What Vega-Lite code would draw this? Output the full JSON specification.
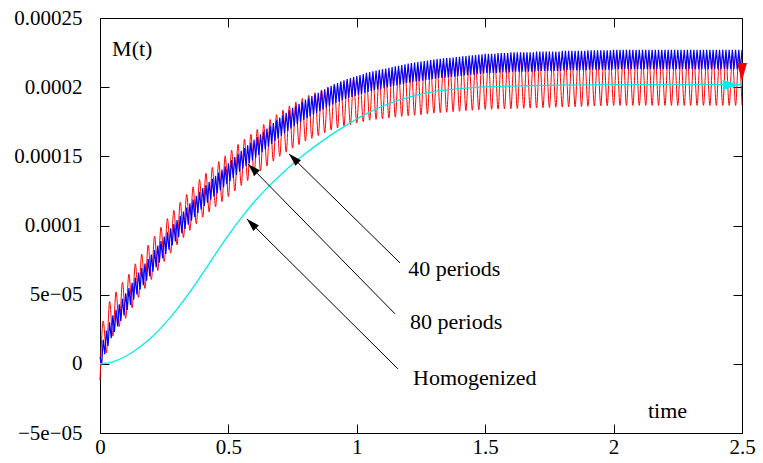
{
"$schema":"https://vega.github.io/schema/vega-lite/v6.json",
"width":642,"height":415,
"autosize":{"type":"none"},
"padding":{"left":100,"top":18,"right":21,"bottom":30},
"background":"white",
"config":{"view":{"stroke":"#000","strokeWidth":1},
"axis":{"domain":false,"grid":false,"tickColor":"#000","tickSize":-9,"tickWidth":1,"labelFont":"'Liberation Serif', 'DejaVu Serif', serif","labelFontSize":21,"labelColor":"#000"}},
"datasets":{
"red":[{"t":0,"m":-1.2e-5},{"t":0.0125,"m":3.1e-5},{"t":0.025,"m":0.8e-5},{"t":0.0375,"m":4.5e-5},{"t":0.05,"m":2.0e-5},{"t":0.0625,"m":5.2e-5},{"t":0.075,"m":2.7e-5},{"t":0.0875,"m":5.9e-5},{"t":0.1,"m":3.3e-5},{"t":0.1125,"m":6.48e-5},{"t":0.125,"m":4.05e-5},{"t":0.1375,"m":7.23e-5},{"t":0.15,"m":4.8e-5},{"t":0.1625,"m":7.93e-5},{"t":0.175,"m":5.45e-5},{"t":0.1875,"m":8.58e-5},{"t":0.2,"m":6.1e-5},{"t":0.2125,"m":9.23e-5},{"t":0.225,"m":6.75e-5},{"t":0.2375,"m":9.88e-5},{"t":0.25,"m":7.4e-5},{"t":0.2625,"m":10.5e-5},{"t":0.275,"m":8.0e-5},{"t":0.2875,"m":11.1e-5},{"t":0.3,"m":8.6e-5},{"t":0.3125,"m":11.68e-5},{"t":0.325,"m":9.13e-5},{"t":0.3375,"m":12.25e-5},{"t":0.35,"m":9.65e-5},{"t":0.3625,"m":12.8e-5},{"t":0.375,"m":10.13e-5},{"t":0.3875,"m":13.32e-5},{"t":0.4,"m":10.6e-5},{"t":0.4125,"m":13.78e-5},{"t":0.425,"m":10.98e-5},{"t":0.4375,"m":14.2e-5},{"t":0.45,"m":11.35e-5},{"t":0.4625,"m":14.62e-5},{"t":0.475,"m":11.73e-5},{"t":0.4875,"m":15.04e-5},{"t":0.5,"m":12.1e-5},{"t":0.5125,"m":15.45e-5},{"t":0.525,"m":12.5e-5},{"t":0.5375,"m":15.86e-5},{"t":0.55,"m":12.9e-5},{"t":0.5625,"m":16.24e-5},{"t":0.575,"m":13.25e-5},{"t":0.5875,"m":16.59e-5},{"t":0.6,"m":13.6e-5},{"t":0.6125,"m":16.95e-5},{"t":0.625,"m":13.95e-5},{"t":0.6375,"m":17.3e-5},{"t":0.65,"m":14.3e-5},{"t":0.6625,"m":17.66e-5},{"t":0.675,"m":14.65e-5},{"t":0.6875,"m":18.01e-5},{"t":0.7,"m":15.0e-5},{"t":0.7125,"m":18.34e-5},{"t":0.725,"m":15.3e-5},{"t":0.7375,"m":18.65e-5},{"t":0.75,"m":15.6e-5},{"t":0.7625,"m":18.93e-5},{"t":0.775,"m":15.85e-5},{"t":0.7875,"m":19.18e-5},{"t":0.8,"m":16.1e-5},{"t":0.8125,"m":19.4e-5},{"t":0.825,"m":16.3e-5},{"t":0.8375,"m":19.6e-5},{"t":0.85,"m":16.5e-5},{"t":0.8625,"m":19.8e-5},{"t":0.875,"m":16.7e-5},{"t":0.8875,"m":20.0e-5},{"t":0.9,"m":16.9e-5},{"t":0.9125,"m":20.18e-5},{"t":0.925,"m":17.05e-5},{"t":0.9375,"m":20.33e-5},{"t":0.95,"m":17.2e-5},{"t":0.9625,"m":20.45e-5},{"t":0.975,"m":17.3e-5},{"t":0.9875,"m":20.55e-5},{"t":1.0,"m":17.4e-5},{"t":1.0125,"m":20.67e-5},{"t":1.025,"m":17.5e-5},{"t":1.0375,"m":20.8e-5},{"t":1.05,"m":17.61e-5},{"t":1.0625,"m":20.91e-5},{"t":1.075,"m":17.67e-5},{"t":1.0875,"m":21.0e-5},{"t":1.1,"m":17.72e-5},{"t":1.1125,"m":21.08e-5},{"t":1.125,"m":17.78e-5},{"t":1.1375,"m":21.17e-5},{"t":1.15,"m":17.83e-5},{"t":1.1625,"m":21.25e-5},{"t":1.175,"m":17.89e-5},{"t":1.1875,"m":21.34e-5},{"t":1.2,"m":17.94e-5},{"t":1.2125,"m":21.41e-5},{"t":1.225,"m":17.97e-5},{"t":1.2375,"m":21.47e-5},{"t":1.25,"m":18.0e-5},{"t":1.2625,"m":21.54e-5},{"t":1.275,"m":18.06e-5},{"t":1.2875,"m":21.6e-5},{"t":1.3,"m":18.12e-5},{"t":1.3125,"m":21.66e-5},{"t":1.325,"m":18.16e-5},{"t":1.3375,"m":21.71e-5},{"t":1.35,"m":18.19e-5},{"t":1.3625,"m":21.75e-5},{"t":1.375,"m":18.23e-5},{"t":1.3875,"m":21.8e-5},{"t":1.4,"m":18.26e-5},{"t":1.4125,"m":21.84e-5},{"t":1.425,"m":18.3e-5},{"t":1.4375,"m":21.89e-5},{"t":1.45,"m":18.33e-5},{"t":1.4625,"m":21.93e-5},{"t":1.475,"m":18.37e-5},{"t":1.4875,"m":21.98e-5},{"t":1.5,"m":18.4e-5},{"t":1.5125,"m":22.01e-5},{"t":1.525,"m":18.4e-5},{"t":1.5375,"m":22.02e-5},{"t":1.55,"m":18.41e-5},{"t":1.5625,"m":22.04e-5},{"t":1.575,"m":18.43e-5},{"t":1.5875,"m":22.05e-5},{"t":1.6,"m":18.44e-5},{"t":1.6125,"m":22.07e-5},{"t":1.625,"m":18.46e-5},{"t":1.6375,"m":22.08e-5},{"t":1.65,"m":18.47e-5},{"t":1.6625,"m":22.1e-5},{"t":1.675,"m":18.49e-5},{"t":1.6875,"m":22.11e-5},{"t":1.7,"m":18.5e-5},{"t":1.7125,"m":22.13e-5},{"t":1.725,"m":18.52e-5},{"t":1.7375,"m":22.14e-5},{"t":1.75,"m":18.53e-5},{"t":1.7625,"m":22.16e-5},{"t":1.775,"m":18.55e-5},{"t":1.7875,"m":22.17e-5},{"t":1.8,"m":18.56e-5},{"t":1.8125,"m":22.19e-5},{"t":1.825,"m":18.58e-5},{"t":1.8375,"m":22.2e-5},{"t":1.85,"m":18.59e-5},{"t":1.8625,"m":22.22e-5},{"t":1.875,"m":18.61e-5},{"t":1.8875,"m":22.23e-5},{"t":1.9,"m":18.62e-5},{"t":1.9125,"m":22.25e-5},{"t":1.925,"m":18.64e-5},{"t":1.9375,"m":22.26e-5},{"t":1.95,"m":18.65e-5},{"t":1.9625,"m":22.28e-5},{"t":1.975,"m":18.67e-5},{"t":1.9875,"m":22.29e-5},{"t":2.0,"m":18.68e-5},{"t":2.0125,"m":22.3e-5},{"t":2.025,"m":18.68e-5},{"t":2.0375,"m":22.3e-5},{"t":2.05,"m":18.68e-5},{"t":2.0625,"m":22.3e-5},{"t":2.075,"m":18.68e-5},{"t":2.0875,"m":22.3e-5},{"t":2.1,"m":18.68e-5},{"t":2.1125,"m":22.3e-5},{"t":2.125,"m":18.68e-5},{"t":2.1375,"m":22.3e-5},{"t":2.15,"m":18.68e-5},{"t":2.1625,"m":22.3e-5},{"t":2.175,"m":18.68e-5},{"t":2.1875,"m":22.3e-5},{"t":2.2,"m":18.68e-5},{"t":2.2125,"m":22.3e-5},{"t":2.225,"m":18.68e-5},{"t":2.2375,"m":22.3e-5},{"t":2.25,"m":18.68e-5},{"t":2.2625,"m":22.3e-5},{"t":2.275,"m":18.68e-5},{"t":2.2875,"m":22.3e-5},{"t":2.3,"m":18.68e-5},{"t":2.3125,"m":22.3e-5},{"t":2.325,"m":18.68e-5},{"t":2.3375,"m":22.3e-5},{"t":2.35,"m":18.68e-5},{"t":2.3625,"m":22.3e-5},{"t":2.375,"m":18.68e-5},{"t":2.3875,"m":22.3e-5},{"t":2.4,"m":18.68e-5},{"t":2.4125,"m":22.3e-5},{"t":2.425,"m":18.68e-5},{"t":2.4375,"m":22.3e-5},{"t":2.45,"m":18.68e-5},{"t":2.4625,"m":22.3e-5},{"t":2.475,"m":18.68e-5},{"t":2.4875,"m":22.3e-5},{"t":2.5,"m":18.68e-5}],
"blue":[{"t":0,"m":0.5e-5},{"t":0.00625,"m":-0.1e-5},{"t":0.0125,"m":1.75e-5},{"t":0.01875,"m":0.7e-5},{"t":0.025,"m":2.4e-5},{"t":0.03125,"m":1.3e-5},{"t":0.0375,"m":3.0e-5},{"t":0.04375,"m":1.85e-5},{"t":0.05,"m":3.5e-5},{"t":0.05625,"m":2.3e-5},{"t":0.0625,"m":3.9e-5},{"t":0.06875,"m":2.7e-5},{"t":0.075,"m":4.3e-5},{"t":0.08125,"m":3.1e-5},{"t":0.0875,"m":4.7e-5},{"t":0.09375,"m":3.5e-5},{"t":0.1,"m":5.1e-5},{"t":0.10625,"m":3.89e-5},{"t":0.1125,"m":5.48e-5},{"t":0.11875,"m":4.26e-5},{"t":0.125,"m":5.85e-5},{"t":0.13125,"m":4.64e-5},{"t":0.1375,"m":6.23e-5},{"t":0.14375,"m":5.01e-5},{"t":0.15,"m":6.6e-5},{"t":0.15625,"m":5.36e-5},{"t":0.1625,"m":6.93e-5},{"t":0.16875,"m":5.69e-5},{"t":0.175,"m":7.25e-5},{"t":0.18125,"m":6.01e-5},{"t":0.1875,"m":7.58e-5},{"t":0.19375,"m":6.34e-5},{"t":0.2,"m":7.9e-5},{"t":0.20625,"m":6.66e-5},{"t":0.2125,"m":8.23e-5},{"t":0.21875,"m":6.99e-5},{"t":0.225,"m":8.55e-5},{"t":0.23125,"m":7.31e-5},{"t":0.2375,"m":8.88e-5},{"t":0.24375,"m":7.64e-5},{"t":0.25,"m":9.2e-5},{"t":0.25625,"m":7.95e-5},{"t":0.2625,"m":9.5e-5},{"t":0.26875,"m":8.25e-5},{"t":0.275,"m":9.8e-5},{"t":0.28125,"m":8.55e-5},{"t":0.2875,"m":10.1e-5},{"t":0.29375,"m":8.85e-5},{"t":0.3,"m":10.4e-5},{"t":0.30625,"m":9.15e-5},{"t":0.3125,"m":10.7e-5},{"t":0.31875,"m":9.45e-5},{"t":0.325,"m":11.0e-5},{"t":0.33125,"m":9.75e-5},{"t":0.3375,"m":11.3e-5},{"t":0.34375,"m":10.05e-5},{"t":0.35,"m":11.6e-5},{"t":0.35625,"m":10.34e-5},{"t":0.3625,"m":11.88e-5},{"t":0.36875,"m":10.61e-5},{"t":0.375,"m":12.15e-5},{"t":0.38125,"m":10.89e-5},{"t":0.3875,"m":12.43e-5},{"t":0.39375,"m":11.16e-5},{"t":0.4,"m":12.7e-5},{"t":0.40625,"m":11.41e-5},{"t":0.4125,"m":12.93e-5},{"t":0.41875,"m":11.64e-5},{"t":0.425,"m":13.15e-5},{"t":0.43125,"m":11.86e-5},{"t":0.4375,"m":13.38e-5},{"t":0.44375,"m":12.09e-5},{"t":0.45,"m":13.6e-5},{"t":0.45625,"m":12.31e-5},{"t":0.4625,"m":13.83e-5},{"t":0.46875,"m":12.54e-5},{"t":0.475,"m":14.05e-5},{"t":0.48125,"m":12.76e-5},{"t":0.4875,"m":14.28e-5},{"t":0.49375,"m":12.99e-5},{"t":0.5,"m":14.5e-5},{"t":0.50625,"m":13.21e-5},{"t":0.5125,"m":14.73e-5},{"t":0.51875,"m":13.44e-5},{"t":0.525,"m":14.95e-5},{"t":0.53125,"m":13.66e-5},{"t":0.5375,"m":15.18e-5},{"t":0.54375,"m":13.89e-5},{"t":0.55,"m":15.4e-5},{"t":0.55625,"m":14.1e-5},{"t":0.5625,"m":15.6e-5},{"t":0.56875,"m":14.3e-5},{"t":0.575,"m":15.8e-5},{"t":0.58125,"m":14.5e-5},{"t":0.5875,"m":16.0e-5},{"t":0.59375,"m":14.7e-5},{"t":0.6,"m":16.2e-5},{"t":0.60625,"m":14.9e-5},{"t":0.6125,"m":16.4e-5},{"t":0.61875,"m":15.1e-5},{"t":0.625,"m":16.6e-5},{"t":0.63125,"m":15.3e-5},{"t":0.6375,"m":16.8e-5},{"t":0.64375,"m":15.5e-5},{"t":0.65,"m":17.0e-5},{"t":0.65625,"m":15.7e-5},{"t":0.6625,"m":17.2e-5},{"t":0.66875,"m":15.9e-5},{"t":0.675,"m":17.4e-5},{"t":0.68125,"m":16.1e-5},{"t":0.6875,"m":17.6e-5},{"t":0.69375,"m":16.3e-5},{"t":0.7,"m":17.8e-5},{"t":0.70625,"m":16.49e-5},{"t":0.7125,"m":17.98e-5},{"t":0.71875,"m":16.66e-5},{"t":0.725,"m":18.15e-5},{"t":0.73125,"m":16.84e-5},{"t":0.7375,"m":18.33e-5},{"t":0.74375,"m":17.01e-5},{"t":0.75,"m":18.5e-5},{"t":0.75625,"m":17.18e-5},{"t":0.7625,"m":18.65e-5},{"t":0.76875,"m":17.33e-5},{"t":0.775,"m":18.8e-5},{"t":0.78125,"m":17.48e-5},{"t":0.7875,"m":18.95e-5},{"t":0.79375,"m":17.63e-5},{"t":0.8,"m":19.1e-5},{"t":0.80625,"m":17.76e-5},{"t":0.8125,"m":19.23e-5},{"t":0.81875,"m":17.89e-5},{"t":0.825,"m":19.35e-5},{"t":0.83125,"m":18.01e-5},{"t":0.8375,"m":19.48e-5},{"t":0.84375,"m":18.14e-5},{"t":0.85,"m":19.6e-5},{"t":0.85625,"m":18.26e-5},{"t":0.8625,"m":19.73e-5},{"t":0.86875,"m":18.39e-5},{"t":0.875,"m":19.85e-5},{"t":0.88125,"m":18.51e-5},{"t":0.8875,"m":19.98e-5},{"t":0.89375,"m":18.64e-5},{"t":0.9,"m":20.1e-5},{"t":0.90625,"m":18.75e-5},{"t":0.9125,"m":20.2e-5},{"t":0.91875,"m":18.85e-5},{"t":0.925,"m":20.3e-5},{"t":0.93125,"m":18.95e-5},{"t":0.9375,"m":20.4e-5},{"t":0.94375,"m":19.05e-5},{"t":0.95,"m":20.5e-5},{"t":0.95625,"m":19.14e-5},{"t":0.9625,"m":20.58e-5},{"t":0.96875,"m":19.21e-5},{"t":0.975,"m":20.65e-5},{"t":0.98125,"m":19.29e-5},{"t":0.9875,"m":20.73e-5},{"t":0.99375,"m":19.36e-5},{"t":1.0,"m":20.8e-5},{"t":1.00625,"m":19.44e-5},{"t":1.0125,"m":20.88e-5},{"t":1.01875,"m":19.51e-5},{"t":1.025,"m":20.95e-5},{"t":1.03125,"m":19.59e-5},{"t":1.0375,"m":21.03e-5},{"t":1.04375,"m":19.66e-5},{"t":1.05,"m":21.1e-5},{"t":1.05625,"m":19.73e-5},{"t":1.0625,"m":21.15e-5},{"t":1.06875,"m":19.78e-5},{"t":1.075,"m":21.2e-5},{"t":1.08125,"m":19.83e-5},{"t":1.0875,"m":21.25e-5},{"t":1.09375,"m":19.88e-5},{"t":1.1,"m":21.3e-5},{"t":1.10625,"m":19.93e-5},{"t":1.1125,"m":21.35e-5},{"t":1.11875,"m":19.98e-5},{"t":1.125,"m":21.4e-5},{"t":1.13125,"m":20.03e-5},{"t":1.1375,"m":21.45e-5},{"t":1.14375,"m":20.08e-5},{"t":1.15,"m":21.5e-5},{"t":1.15625,"m":20.13e-5},{"t":1.1625,"m":21.55e-5},{"t":1.16875,"m":20.18e-5},{"t":1.175,"m":21.6e-5},{"t":1.18125,"m":20.23e-5},{"t":1.1875,"m":21.65e-5},{"t":1.19375,"m":20.28e-5},{"t":1.2,"m":21.7e-5},{"t":1.20625,"m":20.32e-5},{"t":1.2125,"m":21.74e-5},{"t":1.21875,"m":20.36e-5},{"t":1.225,"m":21.78e-5},{"t":1.23125,"m":20.39e-5},{"t":1.2375,"m":21.81e-5},{"t":1.24375,"m":20.43e-5},{"t":1.25,"m":21.85e-5},{"t":1.25625,"m":20.47e-5},{"t":1.2625,"m":21.89e-5},{"t":1.26875,"m":20.51e-5},{"t":1.275,"m":21.93e-5},{"t":1.28125,"m":20.54e-5},{"t":1.2875,"m":21.96e-5},{"t":1.29375,"m":20.58e-5},{"t":1.3,"m":22.0e-5},{"t":1.30625,"m":20.61e-5},{"t":1.3125,"m":22.03e-5},{"t":1.31875,"m":20.64e-5},{"t":1.325,"m":22.05e-5},{"t":1.33125,"m":20.66e-5},{"t":1.3375,"m":22.08e-5},{"t":1.34375,"m":20.69e-5},{"t":1.35,"m":22.1e-5},{"t":1.35625,"m":20.71e-5},{"t":1.3625,"m":22.13e-5},{"t":1.36875,"m":20.74e-5},{"t":1.375,"m":22.15e-5},{"t":1.38125,"m":20.76e-5},{"t":1.3875,"m":22.18e-5},{"t":1.39375,"m":20.79e-5},{"t":1.4,"m":22.2e-5},{"t":1.40625,"m":20.81e-5},{"t":1.4125,"m":22.23e-5},{"t":1.41875,"m":20.84e-5},{"t":1.425,"m":22.25e-5},{"t":1.43125,"m":20.86e-5},{"t":1.4375,"m":22.28e-5},{"t":1.44375,"m":20.89e-5},{"t":1.45,"m":22.3e-5},{"t":1.45625,"m":20.91e-5},{"t":1.4625,"m":22.33e-5},{"t":1.46875,"m":20.94e-5},{"t":1.475,"m":22.35e-5},{"t":1.48125,"m":20.96e-5},{"t":1.4875,"m":22.38e-5},{"t":1.49375,"m":20.99e-5},{"t":1.5,"m":22.42e-5},{"t":1.50625,"m":21.02e-5},{"t":1.5125,"m":22.42e-5},{"t":1.51875,"m":21.02e-5},{"t":1.525,"m":22.42e-5},{"t":1.53125,"m":21.02e-5},{"t":1.5375,"m":22.42e-5},{"t":1.54375,"m":21.02e-5},{"t":1.55,"m":22.47e-5},{"t":1.55625,"m":21.07e-5},{"t":1.5625,"m":22.47e-5},{"t":1.56875,"m":21.07e-5},{"t":1.575,"m":22.47e-5},{"t":1.58125,"m":21.07e-5},{"t":1.5875,"m":22.47e-5},{"t":1.59375,"m":21.07e-5},{"t":1.6,"m":22.52e-5},{"t":1.60625,"m":21.12e-5},{"t":1.6125,"m":22.52e-5},{"t":1.61875,"m":21.12e-5},{"t":1.625,"m":22.52e-5},{"t":1.63125,"m":21.12e-5},{"t":1.6375,"m":22.52e-5},{"t":1.64375,"m":21.12e-5},{"t":1.65,"m":22.52e-5},{"t":1.65625,"m":21.12e-5},{"t":1.6625,"m":22.52e-5},{"t":1.66875,"m":21.12e-5},{"t":1.675,"m":22.52e-5},{"t":1.68125,"m":21.12e-5},{"t":1.6875,"m":22.52e-5},{"t":1.69375,"m":21.12e-5},{"t":1.7,"m":22.57e-5},{"t":1.70625,"m":21.17e-5},{"t":1.7125,"m":22.57e-5},{"t":1.71875,"m":21.17e-5},{"t":1.725,"m":22.57e-5},{"t":1.73125,"m":21.17e-5},{"t":1.7375,"m":22.57e-5},{"t":1.74375,"m":21.17e-5},{"t":1.75,"m":22.57e-5},{"t":1.75625,"m":21.17e-5},{"t":1.7625,"m":22.57e-5},{"t":1.76875,"m":21.17e-5},{"t":1.775,"m":22.57e-5},{"t":1.78125,"m":21.17e-5},{"t":1.7875,"m":22.57e-5},{"t":1.79375,"m":21.17e-5},{"t":1.8,"m":22.62e-5},{"t":1.80625,"m":21.22e-5},{"t":1.8125,"m":22.62e-5},{"t":1.81875,"m":21.22e-5},{"t":1.825,"m":22.62e-5},{"t":1.83125,"m":21.22e-5},{"t":1.8375,"m":22.62e-5},{"t":1.84375,"m":21.22e-5},{"t":1.85,"m":22.62e-5},{"t":1.85625,"m":21.22e-5},{"t":1.8625,"m":22.62e-5},{"t":1.86875,"m":21.22e-5},{"t":1.875,"m":22.62e-5},{"t":1.88125,"m":21.22e-5},{"t":1.8875,"m":22.62e-5},{"t":1.89375,"m":21.22e-5},{"t":1.9,"m":22.67e-5},{"t":1.90625,"m":21.27e-5},{"t":1.9125,"m":22.67e-5},{"t":1.91875,"m":21.27e-5},{"t":1.925,"m":22.67e-5},{"t":1.93125,"m":21.27e-5},{"t":1.9375,"m":22.67e-5},{"t":1.94375,"m":21.27e-5},{"t":1.95,"m":22.67e-5},{"t":1.95625,"m":21.27e-5},{"t":1.9625,"m":22.67e-5},{"t":1.96875,"m":21.27e-5},{"t":1.975,"m":22.67e-5},{"t":1.98125,"m":21.27e-5},{"t":1.9875,"m":22.67e-5},{"t":1.99375,"m":21.27e-5},{"t":2.0,"m":22.7e-5},{"t":2.00625,"m":21.3e-5},{"t":2.0125,"m":22.7e-5},{"t":2.01875,"m":21.3e-5},{"t":2.025,"m":22.7e-5},{"t":2.03125,"m":21.3e-5},{"t":2.0375,"m":22.7e-5},{"t":2.04375,"m":21.3e-5},{"t":2.05,"m":22.7e-5},{"t":2.05625,"m":21.3e-5},{"t":2.0625,"m":22.7e-5},{"t":2.06875,"m":21.3e-5},{"t":2.075,"m":22.7e-5},{"t":2.08125,"m":21.3e-5},{"t":2.0875,"m":22.7e-5},{"t":2.09375,"m":21.3e-5},{"t":2.1,"m":22.7e-5},{"t":2.10625,"m":21.3e-5},{"t":2.1125,"m":22.7e-5},{"t":2.11875,"m":21.3e-5},{"t":2.125,"m":22.7e-5},{"t":2.13125,"m":21.3e-5},{"t":2.1375,"m":22.7e-5},{"t":2.14375,"m":21.3e-5},{"t":2.15,"m":22.7e-5},{"t":2.15625,"m":21.3e-5},{"t":2.1625,"m":22.7e-5},{"t":2.16875,"m":21.3e-5},{"t":2.175,"m":22.7e-5},{"t":2.18125,"m":21.3e-5},{"t":2.1875,"m":22.7e-5},{"t":2.19375,"m":21.3e-5},{"t":2.2,"m":22.7e-5},{"t":2.20625,"m":21.3e-5},{"t":2.2125,"m":22.7e-5},{"t":2.21875,"m":21.3e-5},{"t":2.225,"m":22.7e-5},{"t":2.23125,"m":21.3e-5},{"t":2.2375,"m":22.7e-5},{"t":2.24375,"m":21.3e-5},{"t":2.25,"m":22.7e-5},{"t":2.25625,"m":21.3e-5},{"t":2.2625,"m":22.7e-5},{"t":2.26875,"m":21.3e-5},{"t":2.275,"m":22.7e-5},{"t":2.28125,"m":21.3e-5},{"t":2.2875,"m":22.7e-5},{"t":2.29375,"m":21.3e-5},{"t":2.3,"m":22.7e-5},{"t":2.30625,"m":21.3e-5},{"t":2.3125,"m":22.7e-5},{"t":2.31875,"m":21.3e-5},{"t":2.325,"m":22.7e-5},{"t":2.33125,"m":21.3e-5},{"t":2.3375,"m":22.7e-5},{"t":2.34375,"m":21.3e-5},{"t":2.35,"m":22.7e-5},{"t":2.35625,"m":21.3e-5},{"t":2.3625,"m":22.7e-5},{"t":2.36875,"m":21.3e-5},{"t":2.375,"m":22.7e-5},{"t":2.38125,"m":21.3e-5},{"t":2.3875,"m":22.7e-5},{"t":2.39375,"m":21.3e-5},{"t":2.4,"m":22.7e-5},{"t":2.40625,"m":21.3e-5},{"t":2.4125,"m":22.7e-5},{"t":2.41875,"m":21.3e-5},{"t":2.425,"m":22.7e-5},{"t":2.43125,"m":21.3e-5},{"t":2.4375,"m":22.7e-5},{"t":2.44375,"m":21.3e-5},{"t":2.45,"m":22.7e-5},{"t":2.45625,"m":21.3e-5},{"t":2.4625,"m":22.7e-5},{"t":2.46875,"m":21.3e-5},{"t":2.475,"m":22.7e-5},{"t":2.48125,"m":21.3e-5},{"t":2.4875,"m":22.7e-5},{"t":2.49375,"m":21.3e-5},{"t":2.5,"m":22.7e-5}],
"cyan":[{"t":0,"m":0},{"t":0.05,"m":0.15e-5},{"t":0.1,"m":0.55e-5},{"t":0.15,"m":1.15e-5},{"t":0.2,"m":1.9e-5},{"t":0.25,"m":2.85e-5},{"t":0.3,"m":3.95e-5},{"t":0.35,"m":5.2e-5},{"t":0.4,"m":6.55e-5},{"t":0.45,"m":7.95e-5},{"t":0.5,"m":9.3e-5},{"t":0.55,"m":10.55e-5},{"t":0.6,"m":11.7e-5},{"t":0.65,"m":12.7e-5},{"t":0.7,"m":13.6e-5},{"t":0.75,"m":14.45e-5},{"t":0.8,"m":15.2e-5},{"t":0.85,"m":15.9e-5},{"t":0.9,"m":16.55e-5},{"t":0.95,"m":17.15e-5},{"t":1.0,"m":17.7e-5},{"t":1.05,"m":18.2e-5},{"t":1.1,"m":18.62e-5},{"t":1.15,"m":18.97e-5},{"t":1.2,"m":19.26e-5},{"t":1.25,"m":19.5e-5},{"t":1.3,"m":19.68e-5},{"t":1.35,"m":19.81e-5},{"t":1.4,"m":19.9e-5},{"t":1.45,"m":19.97e-5},{"t":1.5,"m":20.02e-5},{"t":1.6,"m":20.08e-5},{"t":1.7,"m":20.12e-5},{"t":1.8,"m":20.15e-5},{"t":2.0,"m":20.18e-5},{"t":2.5,"m":20.2e-5}],
"notes":[{"t":0.047,"m":22.76e-5,"label":"M(t)"},{"t":2.134,"m":-3.4e-5,"label":"time"},{"t":1.2,"m":6.86e-5,"label":"40 periods"},{"t":1.207,"m":3.03e-5,"label":"80 periods"},{"t":1.219,"m":-1.01e-5,"label":"Homogenized"}],
"arrows":[{"t":1.168,"m":7.3e-5,"t2":0.736,"m2":15.17e-5},{"t":1.149,"m":3.61e-5,"t2":0.576,"m2":14.45e-5},{"t":1.16,"m":-0.36e-5,"t2":0.572,"m2":10.48e-5}],
"heads":[{"t":0.754,"m":14.85e-5},{"t":0.594,"m":14.12e-5},{"t":0.59,"m":10.14e-5}],
"cyanEnd":[{"t":2.46,"m":20.16e-5}],
"redEnd":[{"t":2.5,"m":21.1e-5}]
},
"layer":[
{"data":{"name":"red"},"mark":{"type":"line","color":"#ff0000","strokeWidth":1,"interpolate":"monotone"},
"encoding":{"x":{"field":"t","type":"quantitative","scale":{"domain":[0,2.5],"nice":false},"axis":{"orient":"top","values":[0,0.5,1,1.5,2,2.5],"labels":false,"title":null}},
"y":{"field":"m","type":"quantitative","scale":{"domain":[-5e-5,2.5e-4],"nice":false,"zero":false},"axis":{"orient":"right","values":[-5e-5,0,5e-5,1e-4,1.5e-4,2e-4,2.5e-4],"labels":false,"title":null}}}},
{"data":{"name":"blue"},"mark":{"type":"line","color":"#0000ff","strokeWidth":1.2},
"encoding":{"x":{"field":"t","type":"quantitative","axis":null},"y":{"field":"m","type":"quantitative","axis":null}}},
{"data":{"name":"cyan"},"mark":{"type":"line","color":"#00eeee","strokeWidth":1.3,"interpolate":"monotone"},
"encoding":{"x":{"field":"t","type":"quantitative","axis":{"orient":"bottom","values":[0,0.5,1,1.5,2,2.5],"format":"~g","title":null,"labelPadding":12,"labelFlush":false}},
"y":{"field":"m","type":"quantitative","axis":{"orient":"left","values":[-5e-5,0,5e-5,1e-4,1.5e-4,2e-4,2.5e-4],"title":null,"labelPadding":27,"labelFlush":false,"labelExpr":"datum.value > 0.00024 ? '0.00025' : datum.value > 0.00019 ? '0.0002' : datum.value > 0.00014 ? '0.00015' : datum.value > 0.00009 ? '0.0001' : datum.value > 0.00004 ? '5e\u221205' : datum.value > -0.00001 ? '0' : '\u22125e\u221205'"}}}},
{"data":{"name":"arrows"},"mark":{"type":"rule","color":"#000","strokeWidth":1},
"encoding":{"x":{"field":"t","type":"quantitative","axis":null},"y":{"field":"m","type":"quantitative","axis":null},"x2":{"field":"t2"},"y2":{"field":"m2"}}},
{"data":{"name":"heads"},"mark":{"type":"point","shape":"M0,-1L0.6,1L-0.6,1Z","filled":true,"color":"#000","opacity":1,"size":169,"angle":-45,"strokeWidth":0},
"encoding":{"x":{"field":"t","type":"quantitative","axis":null},"y":{"field":"m","type":"quantitative","axis":null}}},
{"data":{"name":"cyanEnd"},"mark":{"type":"point","shape":"M0,-1L0.55,1L-0.55,1Z","filled":true,"color":"#00eeee","opacity":1,"size":324,"angle":90,"strokeWidth":0},
"encoding":{"x":{"field":"t","type":"quantitative","axis":null},"y":{"field":"m","type":"quantitative","axis":null}}},
{"data":{"name":"redEnd"},"mark":{"type":"point","shape":"M0,-1L0.55,1L-0.55,1Z","filled":true,"color":"#ee0000","opacity":1,"size":324,"angle":180,"strokeWidth":0},
"encoding":{"x":{"field":"t","type":"quantitative","axis":null},"y":{"field":"m","type":"quantitative","axis":null}}},
{"data":{"name":"notes"},"mark":{"type":"text","font":"'Liberation Serif', 'DejaVu Serif', serif","fontSize":22,"align":"left","baseline":"middle","color":"#000"},
"encoding":{"x":{"field":"t","type":"quantitative","axis":null},"y":{"field":"m","type":"quantitative","axis":null},"text":{"field":"label"}}}
],
"resolve":{"axis":{"x":"independent","y":"independent"}}
}
